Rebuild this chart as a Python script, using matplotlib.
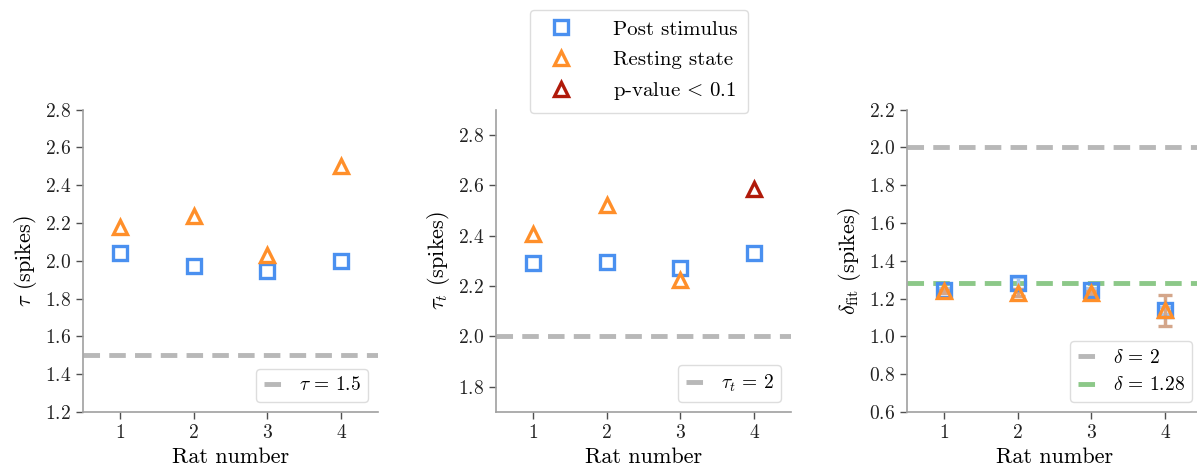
import numpy as np
import matplotlib
matplotlib.use("Agg")
from matplotlib import pyplot as plt
from matplotlib.lines import Line2D

plt.rcParams['font.family'] = 'serif'
plt.rcParams['font.serif'] = ['cmr10']
plt.rcParams['mathtext.fontset'] = 'cm'
plt.rcParams['axes.formatter.use_mathtext'] = True

rats = [1, 2, 3, 4]

# tau
tau_post = [2.04, 1.97, 1.945, 2.0]
tau_rest = [2.18, 2.235, 2.03, 2.5]
tau_ref = 1.5

# tau_t
taut_post = [2.29, 2.297, 2.272, 2.333]
taut_rest = [2.407, 2.522, 2.225, 2.586]
taut_signif = [False, False, False, True]
taut_ref = 2.0

# delta fit with errors
delta_post = [1.248, 1.283, 1.248, 1.138]
delta_post_err = [0.01, 0.03, 0.01, 0.02]
delta_rest = [1.238, 1.232, 1.232, 1.138]
delta_rest_err = [0.01, 0.02, 0.01, 0.082]
delta_ref = 2.0
delta_mean = 1.28

c_post = '#4a90f0'
c_rest = '#ff8f2a'
c_sig = '#b01a0a'
c_grey = '#b8b8b8'
c_green = '#8cc888'

mk = dict(linestyle='none', fillstyle='none', markersize=10, markeredgewidth=2.4)
dash = dict(lw=3.5, ls='--', dashes=(3.4, 1.9))


def style_axes(ax):
    for s in ['top', 'right']:
        ax.spines[s].set_visible(False)
    for s in ['left', 'bottom']:
        ax.spines[s].set_color('#a0a0a0')
        ax.spines[s].set_linewidth(1.2)
    ax.tick_params(colors='#505050', labelcolor='#222222', labelsize=14, width=1.0, length=5)
    ax.set_xlim(0.5, 4.5)
    ax.set_xticks(rats)
    ax.set_xlabel('Rat number', fontsize=16)


fig = plt.figure(figsize=(11.97, 4.68), dpi=100)
ax1 = fig.add_axes([0.0693, 0.1197, 0.2465, 0.646])
ax2 = fig.add_axes([0.4144, 0.1197, 0.2465, 0.646])
ax3 = fig.add_axes([0.7577, 0.1197, 0.2465, 0.646])

leg_kw = dict(loc='lower right', fontsize=14, handlelength=0.9, handletextpad=0.9,
              borderpad=0.4, framealpha=1.0, edgecolor='#dddddd')

# panel 1
ax1.axhline(tau_ref, color=c_grey, label=r'$\tau\,=\,1.5$', **dash)
ax1.plot(rats, tau_post, marker='s', color=c_post, **mk)
ax1.plot(rats, tau_rest, marker='^', color=c_rest, **mk)
ax1.set_ylim(1.2, 2.8)
ax1.set_yticks(np.arange(1.2, 2.81, 0.2))
ax1.set_ylabel(r'$\tau$ (spikes)', fontsize=16)
style_axes(ax1)
ax1.legend(**leg_kw)

# panel 2
ax2.axhline(taut_ref, color=c_grey, label=r'$\tau_t\,=\,2$', **dash)
ax2.plot(rats, taut_post, marker='s', color=c_post, **mk)
rest_cols = [c_sig if s else c_rest for s in taut_signif]
for r, v, c in zip(rats, taut_rest, rest_cols):
    ax2.plot([r], [v], marker='^', color=c, **mk)
ax2.set_ylim(1.7, 2.9)
ax2.set_yticks(np.arange(1.8, 2.81, 0.2))
ax2.set_ylabel(r'$\tau_t$ (spikes)', fontsize=16)
style_axes(ax2)

# shared marker legend above the middle panel
handles = [
    Line2D([], [], marker='s', color=c_post, **mk),
    Line2D([], [], marker='^', color=c_rest, **mk),
    Line2D([], [], marker='^', color=c_sig, **mk),
]
labels = ['Post stimulus', 'Resting state', r'p-value$\,<\,$0.1']
top_leg = ax2.legend(handles, labels, loc='lower center', bbox_to_anchor=(0.485, 0.99),
                     borderaxespad=0, fontsize=15, handletextpad=1.5, borderpad=0.5,
                     labelspacing=0.55, framealpha=1.0, edgecolor='#dddddd')
ax2.add_artist(top_leg)
ax2.legend(**leg_kw)

# panel 3
ax3.axhline(delta_ref, color=c_grey, label=r'$\delta\,=\,2$', **dash)
ax3.axhline(delta_mean, color=c_green, label=r'$\delta\,=\,1.28$', **dash)
ax3.errorbar(rats, delta_post, yerr=delta_post_err, marker='s', color=c_post,
             ecolor='#a8c8f0', elinewidth=2.5, capsize=5, capthick=2.5, **mk)
ax3.errorbar(rats, delta_rest, yerr=delta_rest_err, marker='^', color=c_rest,
             ecolor='#d4a68a', elinewidth=2.5, capsize=5, capthick=2.5, **mk)
ax3.set_ylim(0.6, 2.2)
ax3.set_yticks(np.arange(0.6, 2.21, 0.2))
ax3.set_ylabel(r'$\delta_{\rm fit}$ (spikes)', fontsize=16)
style_axes(ax3)
ax3.legend(**leg_kw)

fig.savefig('out.png', dpi=100)
